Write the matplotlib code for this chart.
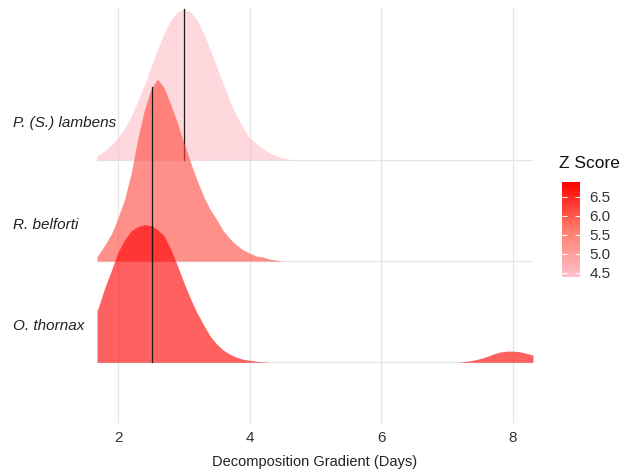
import matplotlib
matplotlib.use("Agg")
import matplotlib.pyplot as plt
import matplotlib.transforms as mtransforms
from matplotlib.colors import LinearSegmentedColormap, Normalize
from matplotlib.cm import ScalarMappable
import numpy as np

plt.rcParams['font.family'] = ['Liberation Sans', 'DejaVu Sans']

# species, bottom to top
species = ["O. thornax", "R. belforti", "P. (S.) lambens"]
z_scores = [6.89, 6.12, 4.39]
medians = [2.52, 2.52, 3.0]

# ridge heights (1 = gap between ridges)
thornax_x = [1.68, 1.7, 1.8, 1.9, 2.0, 2.1, 2.2, 2.3, 2.4, 2.5, 2.6, 2.7, 2.8, 2.9,
             3.0, 3.1, 3.2, 3.3, 3.4, 3.5, 3.6, 3.7, 3.8, 3.9, 4.0, 4.1, 4.2, 4.3,
             7.15, 7.2, 7.3, 7.4, 7.5, 7.6, 7.7, 7.8, 7.9, 8.0, 8.1, 8.2, 8.31]
thornax_h = [0.51, 0.54, 0.74, 0.91, 1.09, 1.21, 1.30, 1.34, 1.36, 1.35, 1.31, 1.25, 1.12, 0.96,
             0.79, 0.63, 0.49, 0.37, 0.26, 0.18, 0.12, 0.08, 0.05, 0.03, 0.02, 0.01, 0.005, 0.0,
             0.0, 0.003, 0.01, 0.02, 0.035, 0.055, 0.08, 0.10, 0.11, 0.11, 0.105, 0.09, 0.07]

belforti_x = [1.68, 1.7, 1.8, 1.9, 2.0, 2.1, 2.2, 2.3, 2.4, 2.5, 2.6, 2.7, 2.8, 2.9,
              3.0, 3.1, 3.2, 3.3, 3.4, 3.5, 3.6, 3.7, 3.8, 3.9, 4.0, 4.1, 4.2, 4.3, 4.4, 4.5]
belforti_h = [0.05, 0.06, 0.16, 0.27, 0.43, 0.61, 0.87, 1.21, 1.49, 1.70, 1.80, 1.71, 1.55, 1.37,
              1.17, 0.98, 0.80, 0.64, 0.51, 0.41, 0.30, 0.22, 0.16, 0.11, 0.08, 0.05, 0.04, 0.02, 0.01, 0.0]

lambens_x = [1.68, 1.8, 1.9, 2.0, 2.1, 2.2, 2.3, 2.4, 2.5, 2.6, 2.7, 2.8, 2.9, 3.0,
             3.1, 3.2, 3.3, 3.4, 3.5, 3.6, 3.7, 3.8, 3.9, 4.0, 4.1, 4.2, 4.3, 4.4, 4.5, 4.6, 4.7]
lambens_h = [0.04, 0.09, 0.15, 0.22, 0.31, 0.43, 0.58, 0.74, 0.92, 1.09, 1.25, 1.38, 1.46, 1.49,
             1.46, 1.38, 1.25, 1.09, 0.92, 0.75, 0.58, 0.44, 0.32, 0.22, 0.16, 0.11, 0.07, 0.04, 0.02, 0.005, 0.0]

ridges_x = [thornax_x, belforti_x, lambens_x]
ridges_h = [thornax_h, belforti_h, lambens_h]

x_ticks = [2, 4, 6, 8]
z_ticks = [4.5, 5.0, 5.5, 6.0, 6.5]

# pink -> red, with a Lab-ish midpoint
cmap = LinearSegmentedColormap.from_list(
    "zs", [(0.0, "#FFC0CB"), (0.5, "#FF7C6B"), (1.0, "#FF0000")])
norm = Normalize(vmin=min(z_scores), vmax=max(z_scores))

fig = plt.figure(figsize=(6.3, 4.7), dpi=100)
W, H = 630, 470
ax = fig.add_axes([97 / W, 1 - 423 / H, 436 / W, 415 / H])
ax.set_xlim(1.68, 8.31)
ax.set_ylim(0.4, 4.5)

for s in ax.spines.values():
    s.set_visible(False)

grid_col = "#E6E6E6"
for xt in x_ticks:
    ax.axvline(xt, color=grid_col, lw=0.9, zorder=0)
for i in range(len(species)):
    ax.axhline(i + 1, color=grid_col, lw=0.9, zorder=0)

# draw from top ridge to bottom so lower ones sit in front
for i in reversed(range(len(species))):
    base = i + 1
    xs = np.array(ridges_x[i])
    hs = np.array(ridges_h[i])
    ax.fill_between(xs, base, base + hs, color=cmap(norm(z_scores[i])),
                    alpha=0.62, lw=0, zorder=2 + (3 - i))
    mh = np.interp(medians[i], xs, hs)
    ax.plot([medians[i], medians[i]], [base, base + mh], color="#1a1a1a",
            lw=0.9, zorder=2 + (3 - i))

ax.set_yticks([])
ax.set_xticks(x_ticks)
ax.set_xticklabels([str(t) for t in x_ticks])
ax.tick_params(axis="x", length=0, pad=6, labelsize=11, labelcolor="#333333")

trans = mtransforms.blended_transform_factory(fig.transFigure, ax.transData)
for i, name in enumerate(species):
    ax.text(13 / W, i + 1 + 0.36, name, transform=trans, ha="left", va="center",
            fontsize=11, style="italic", color="#222222")

fig.text(315 / W, 1 - 462 / H, "Decomposition Gradient (Days)", ha="center",
         va="center", fontsize=10.5, color="#222222")

# colour bar
cax = fig.add_axes([562 / W, 1 - 277 / H, 18 / W, 95 / H])
sm = ScalarMappable(norm=norm, cmap=cmap)
cb = fig.colorbar(sm, cax=cax, ticks=z_ticks)
cb.outline.set_visible(False)
cb.ax.set_yticklabels(["%.1f" % t for t in z_ticks])
cax.tick_params(left=True, right=True, labelleft=False, labelright=True,
                direction="in", length=3.5, width=0.8, color="white",
                labelsize=11, labelcolor="#333333", pad=7)
fig.text(559 / W, 1 - 163 / H, "Z Score", ha="left", va="center",
         fontsize=12.5, color="#111111")

fig.savefig("out.png", dpi=100)
